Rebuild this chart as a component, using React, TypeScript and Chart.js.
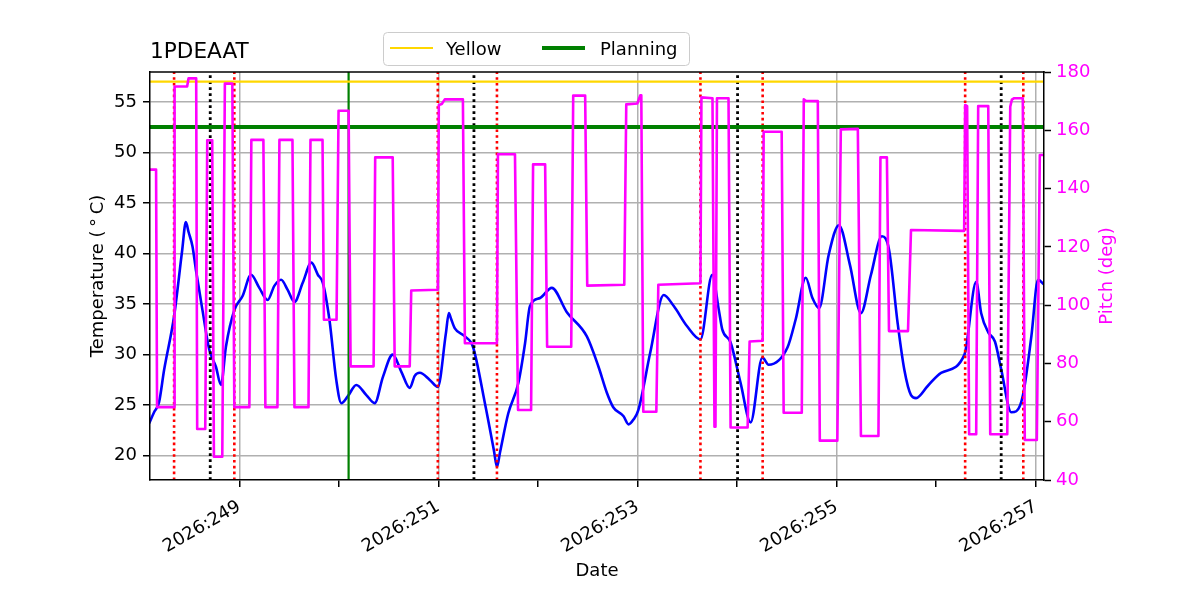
import React, { useEffect, useRef } from "react";
import { Chart, registerables } from "chart.js";

Chart.register(...registerables);

// ---------- data (day-of-year, 2026) ----------
const yearLabel = "2026";

const tempDays = [
  248.094, 248.144, 248.194, 248.245, 248.345, 248.426, 248.463, 248.491, 248.53, 248.564,
  248.63, 248.698, 248.765, 248.816, 248.866, 248.95, 249.033, 249.118, 249.201, 249.285,
  249.352, 249.42, 249.486, 249.554, 249.637, 249.725, 249.789, 249.839, 249.906, 249.974,
  250.024, 250.091, 250.175, 250.276, 250.36, 250.443, 250.541, 250.628, 250.712, 250.762,
  250.813, 250.913, 250.994, 251.075, 251.105, 251.125, 251.165, 251.266, 251.346, 251.467,
  251.558, 251.588, 251.618, 251.702, 251.803, 251.87, 251.92, 252.021, 252.139, 252.29,
  252.491, 252.608, 252.693, 252.756, 252.86, 252.91, 252.961, 253.008, 253.128, 253.263,
  253.364, 253.498, 253.632, 253.75, 253.817, 253.851, 253.935, 254.035, 254.136, 254.254,
  254.317, 254.506, 254.589, 254.69, 254.757, 254.824, 254.921, 255.023, 255.133, 255.244,
  255.345, 255.455, 255.526, 255.613, 255.68, 255.747, 255.798, 255.915, 256.049, 256.284,
  256.402, 256.452, 256.523, 256.59, 256.654, 256.754, 256.805, 256.872, 256.956, 257.023,
  257.087,
];
const tempValues = [
  23.2, 24.3, 25.3, 28.5, 33.8, 40.3, 43.1, 42.1, 40.7, 38.4,
  34.4, 30.5, 28.8, 27.0, 30.8, 34.4, 35.8, 37.9, 36.6, 35.4,
  36.8, 37.4, 36.4, 35.2, 37.1, 39.1, 37.9, 37.1, 33.4, 27.5,
  25.2, 25.9, 27.0, 26.0, 25.2, 27.8, 30.0, 28.3, 26.7, 27.9,
  28.2, 27.5, 26.8, 32.1, 34.1, 33.6, 32.6, 31.8, 30.8, 25.2,
  20.5, 18.9, 20.3, 24.2, 27.2, 31.1, 34.8, 35.6, 36.6, 34.2,
  31.8, 28.8, 26.2, 24.8, 23.9, 23.1, 23.6, 24.5, 30.2, 35.9,
  34.8, 32.8, 31.5, 37.9, 34.4, 32.5, 31.2, 27.2, 23.3, 29.7,
  29.0, 30.7, 33.5, 37.6, 35.6, 34.6, 39.9, 42.8, 38.9, 34.1,
  37.9, 41.7, 40.4, 33.1, 28.5, 26.0, 25.7, 26.9, 28.2, 30.0,
  37.2, 34.1, 32.2, 31.3, 28.5, 24.3, 24.4, 26.0, 31.8, 37.4,
  36.9,
];

const pitchDays = [
  248.094, 248.1, 248.164, 248.174, 248.345, 248.35, 248.476, 248.49, 248.567, 248.577,
  248.658, 248.678, 248.728, 248.745, 248.829, 248.855, 248.93, 248.95, 249.101, 249.121,
  249.242, 249.262, 249.383, 249.403, 249.534, 249.554, 249.695, 249.715, 249.836, 249.85,
  249.977, 249.997, 250.098, 250.118, 250.349, 250.365, 250.541, 250.561, 250.712, 250.727,
  250.994, 251.004, 251.034, 251.064, 251.246, 251.266, 251.588, 251.598, 251.769, 251.8,
  251.931, 251.951, 252.072, 252.092, 252.334, 252.354, 252.474, 252.495, 252.867, 252.887,
  252.998, 253.028, 253.038, 253.058, 253.189, 253.209, 253.632, 253.642, 253.753, 253.773,
  253.783, 253.798, 253.914, 253.935, 254.106, 254.126, 254.257, 254.267, 254.448, 254.468,
  254.65, 254.67, 254.69, 254.811, 254.831, 255.007, 255.042, 255.213, 255.244, 255.42,
  255.44, 255.505, 255.526, 255.717, 255.747, 256.281, 256.291, 256.311, 256.331, 256.402,
  256.422, 256.523, 256.543, 256.714, 256.744, 256.76, 256.784, 256.87, 256.89, 257.011,
  257.041, 257.097,
];
const pitchValues = [
  157, 146.5, 146.5, 65, 65, 175, 175, 177.8, 177.8, 57.5,
  57.5, 156.6, 156.6, 48, 48, 176, 176, 65, 65, 156.7,
  156.7, 65, 65, 156.7, 156.7, 65, 65, 156.7, 156.7, 95,
  95, 166.7, 166.7, 79, 79, 150.7, 150.7, 79, 79, 105,
  105.3, 168.7, 169, 170.6, 170.6, 86.9, 86.9, 151.8, 151.8, 64,
  64, 148.3, 148.3, 85.7, 85.7, 171.9, 171.9, 106.7, 107, 168.9,
  169.2, 172, 172, 63.4, 63.4, 107, 107.5, 171.3, 171, 58.3,
  58.3, 171, 171, 58, 58, 87.5, 87.8, 159.5, 159.5, 63.1,
  63.1, 170.6, 170.1, 170, 53.5, 53.5, 160.3, 160.5, 55.1, 55.1,
  150.7, 150.7, 91.1, 91.1, 125.8, 125.5, 168.7, 168.3, 55.7, 55.7,
  168.3, 168.3, 55.7, 55.7, 168.1, 170.5, 171, 171, 53.7, 53.7,
  151.5, 151.5,
];

const redEventDays = [248.345, 248.95, 250.994, 251.588, 253.632, 254.257, 256.291, 256.875];
const blackEventDays = [248.708, 251.357, 254.005, 256.653];
const greenEventDays = [250.098];

const yellowLimit = 57;
const planningLimit = 52.5;

const xRange = [248.103, 257.083];
const tempRange = [17.6, 57.95];
const pitchRange = [40, 180];
const xTickDays = [249, 250, 251, 252, 253, 254, 255, 256, 257];
const tempTicks = [20, 25, 30, 35, 40, 45, 50, 55];
const pitchTicks = [40, 60, 80, 100, 120, 140, 160, 180];

const legendNames = ["Yellow", "Planning"];
const chartTitle = "1PDEAAT";

// ---------- styles ----------
const FONT = "DejaVu Sans";
const GRID = "#b0b0b0";
const MAGENTA = "#ff00ff";
const BLUE = "#0000ff";
const GOLD = "#ffd700";
const GREEN = "#008000";

const toPts = (xs: number[], ys: number[]) => xs.map((x, i) => ({ x, y: ys[i] }));

export default function App() {
  const canvasRef = useRef<HTMLCanvasElement | null>(null);

  useEffect(() => {
    const canvas = canvasRef.current;
    if (!canvas) return;

    const overlay = {
      id: "overlay",
      afterDatasetDraw(chart: any, args: any) {
        if (args.index !== 3) return;
        const { ctx, chartArea } = chart;
        const xs = chart.scales.x;
        ctx.save();
        ctx.beginPath();
        ctx.rect(chartArea.left, chartArea.top, chartArea.right - chartArea.left, chartArea.bottom - chartArea.top);
        ctx.clip();
        const drawV = (days: number[], color: string, width: number, dash: number[]) => {
          days.forEach((d) => {
            const px = xs.getPixelForValue(d);
            ctx.beginPath();
            ctx.setLineDash(dash);
            ctx.strokeStyle = color;
            ctx.lineWidth = width;
            ctx.moveTo(px, chartArea.bottom);
            ctx.lineTo(px, chartArea.top);
            ctx.stroke();
          });
        };
        drawV(greenEventDays, GREEN, 2.2, []);
        drawV(redEventDays, "#ff0000", 2.6, [2.6, 3.2]);
        drawV(blackEventDays, "#000000", 2.8, [2.8, 3.2]);
        ctx.restore();
      },
      afterDraw(chart: any) {
        const { ctx, chartArea } = chart;
        ctx.save();
        ctx.setLineDash([]);
        // top spine
        ctx.strokeStyle = "#000";
        ctx.lineWidth = 1.5;
        ctx.beginPath();
        ctx.moveTo(chartArea.left - 0.75, chartArea.top);
        ctx.lineTo(chartArea.right + 0.75, chartArea.top);
        ctx.stroke();

        // title
        ctx.fillStyle = "#000";
        ctx.font = `21.6px "${FONT}"`;
        ctx.textAlign = "left";
        ctx.textBaseline = "alphabetic";
        ctx.fillText(chartTitle, chartArea.left, 57.7);

        // right axis label
        ctx.save();
        ctx.translate(1111.5, (chartArea.top + chartArea.bottom) / 2);
        ctx.rotate(-Math.PI / 2);
        ctx.fillStyle = MAGENTA;
        ctx.font = `18px "${FONT}"`;
        ctx.textAlign = "center";
        ctx.textBaseline = "alphabetic";
        ctx.fillText("Pitch (deg)", 0, 0);
        ctx.restore();

        // legend
        const bx = 383.5, by = 32.5, bw = 306, bh = 33, r = 4;
        ctx.beginPath();
        ctx.moveTo(bx + r, by);
        ctx.lineTo(bx + bw - r, by);
        ctx.arcTo(bx + bw, by, bx + bw, by + r, r);
        ctx.lineTo(bx + bw, by + bh - r);
        ctx.arcTo(bx + bw, by + bh, bx + bw - r, by + bh, r);
        ctx.lineTo(bx + r, by + bh);
        ctx.arcTo(bx, by + bh, bx, by + bh - r, r);
        ctx.lineTo(bx, by + r);
        ctx.arcTo(bx, by, bx + r, by, r);
        ctx.closePath();
        ctx.fillStyle = "rgba(255,255,255,0.8)";
        ctx.fill();
        ctx.strokeStyle = "#cccccc";
        ctx.lineWidth = 1;
        ctx.stroke();

        const entries = [
          { name: legendNames[0], color: GOLD, width: 2, x0: 390, tx: 446 },
          { name: legendNames[1], color: GREEN, width: 4, x0: 542, tx: 600 },
        ];
        entries.forEach((e) => {
          ctx.beginPath();
          ctx.strokeStyle = e.color;
          ctx.lineWidth = e.width;
          ctx.moveTo(e.x0, 48);
          ctx.lineTo(e.x0 + 43, 48);
          ctx.stroke();
          ctx.fillStyle = "#000";
          ctx.font = `18px "${FONT}"`;
          ctx.textAlign = "left";
          ctx.textBaseline = "alphabetic";
          ctx.fillText(e.name, e.tx, 55);
        });
        ctx.restore();
      },
    };

    const chart = new Chart(canvas, {
      type: "line",
      data: {
        datasets: [
          {
            label: "Pitch",
            data: toPts(pitchDays, pitchValues),
            yAxisID: "yR",
            borderColor: MAGENTA,
            borderWidth: 2.6,
            pointRadius: 0,
            tension: 0,
            borderJoinStyle: "round",
            order: 0,
          },
          {
            label: legendNames[0],
            data: toPts([xRange[0], xRange[1]], [yellowLimit, yellowLimit]),
            yAxisID: "y",
            borderColor: GOLD,
            borderWidth: 2.2,
            pointRadius: 0,
            order: 1,
          },
          {
            label: legendNames[1],
            data: toPts([xRange[0], xRange[1]], [planningLimit, planningLimit]),
            yAxisID: "y",
            borderColor: GREEN,
            borderWidth: 4,
            pointRadius: 0,
            order: 1,
          },
          {
            label: "Temperature",
            data: toPts(tempDays, tempValues),
            yAxisID: "y",
            borderColor: BLUE,
            borderWidth: 2.6,
            pointRadius: 0,
            cubicInterpolationMode: "monotone",
            borderJoinStyle: "round",
            order: 2,
          },
        ],
      },
      options: {
        responsive: false,
        animation: false,
        parsing: false,
        normalized: true,
        layout: { padding: { top: 72, left: 0, right: 0, bottom: 0 } },
        plugins: {
          legend: { display: false },
          title: { display: false },
          tooltip: { enabled: false },
        },
        scales: {
          x: {
            type: "linear",
            position: "bottom",
            min: xRange[0],
            max: xRange[1],
            afterBuildTicks: (s: any) => {
              s.ticks = xTickDays.map((v) => ({ value: v }));
            },
            afterFit: (s: any) => {
              s.height = 120;
            },
            ticks: {
              autoSkip: false,
              minRotation: 30,
              maxRotation: 30,
              padding: 9,
              labelOffset: 0,
              color: "#000",
              font: { family: FONT, size: 18 },
              callback: (v: any) => (Number(v) % 2 === 1 ? `${yearLabel}:${v}` : ""),
            },
            grid: {
              color: (c: any) => (c.tick && c.tick.value % 2 === 1 ? GRID : "rgba(0,0,0,0)"),
              lineWidth: 1.5,
              tickColor: "#000",
              tickLength: 7,
              tickWidth: 1.5,
            },
            border: { display: true, color: "#000", width: 1.5, z: 1 },
            title: {
              display: true,
              text: "Date",
              color: "#000",
              font: { family: FONT, size: 18 },
              padding: { top: 0, bottom: 18 },
            },
          },
          y: {
            type: "linear",
            position: "left",
            min: tempRange[0],
            max: tempRange[1],
            afterBuildTicks: (s: any) => {
              s.ticks = tempTicks.map((v) => ({ value: v }));
            },
            afterFit: (s: any) => {
              s.width = 150;
            },
            ticks: {
              padding: 6,
              color: "#000",
              font: { family: FONT, size: 18 },
            },
            grid: {
              color: GRID,
              lineWidth: 1.5,
              tickColor: "#000",
              tickLength: 7,
              tickWidth: 1.5,
            },
            border: { display: true, color: "#000", width: 1.5, z: 1 },
            title: {
              display: true,
              text: "Temperature (\u2009°\u2009C)",
              color: "#000",
              font: { family: FONT, size: 18 },
              padding: { top: 88, bottom: 0 },
            },
          },
          yR: {
            type: "linear",
            position: "right",
            min: pitchRange[0],
            max: pitchRange[1],
            afterBuildTicks: (s: any) => {
              s.ticks = pitchTicks.map((v) => ({ value: v }));
            },
            afterFit: (s: any) => {
              s.width = 156;
            },
            ticks: {
              padding: 5,
              color: MAGENTA,
              font: { family: FONT, size: 18 },
            },
            grid: {
              drawOnChartArea: false,
              tickColor: "#000",
              tickLength: 7,
              tickWidth: 1.5,
            },
            border: { display: true, color: "#000", width: 1.5, z: 1 },
          },
        },
      },
      plugins: [overlay],
    } as any);

    return () => chart.destroy();
  }, []);

  return (
    <div style={{ position: "absolute", left: 0, top: 0, width: 1200, height: 600, background: "#fff" }}>
      <canvas ref={canvasRef} width={1200} height={600} style={{ display: "block", width: 1200, height: 600 }} />
    </div>
  );
}
